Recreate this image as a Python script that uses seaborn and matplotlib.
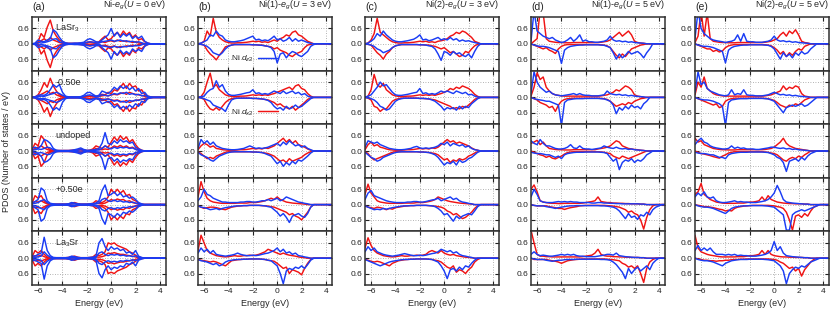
import numpy as np
import seaborn as sns
import matplotlib
matplotlib.use("Agg")
import matplotlib.pyplot as plt
from matplotlib.lines import Line2D

# energy grid (eV) shared by all panels, values below are PDOS in 1/100 states/eV
E = np.arange(-6.5, 4.51, 0.25)

col_titles = ["Ni-$e_g$($U$ = 0 eV)", "Ni(1)-$e_g$($U$ = 3 eV)", "Ni(2)-$e_g$($U$ = 3 eV)",
              "Ni(1)-$e_g$($U$ = 5 eV)", "Ni(2)-$e_g$($U$ = 5 eV)"]
col_tags = ["(a)", "(b)", "(c)", "(d)", "(e)"]
row_labels = ["LaSr$_3$", "-0.50e", "undoped", "+0.50e", "La$_3$Sr"]
yticks = [-0.6, 0.0, 0.6]
ytick_labels = ["0.6", "0.0", "0.6"]
xticks = [-6, -4, -2, 0, 2, 4]

# ---- column (a): U = 0, spin up and down mirror each other (outer / inner curves)
a1_ro = [0,0,8,40,25,65,93,50,30,15,8,3,2,2,2,2,3,4,6,8,6,5,8,20,30,15,20,35,45,30,50,35,45,25,35,15,20,8,3,0]
a1_ri = [0,0,3,12,20,10,25,15,10,5,2,0,0,0,0,0,0,2,3,4,3,2,4,8,5,10,12,8,15,10,12,8,10,5,8,3,2,0]
a1_bo = [0,3,15,10,8,15,20,55,45,25,10,4,2,2,3,3,4,6,15,20,15,8,6,15,25,35,60,30,45,25,40,30,40,20,30,22,30,10,3,0]
a1_bi = [0,0,5,3,5,8,12,18,20,8,4,0,0,0,0,0,0,2,5,8,6,3,3,8,10,12,15,10,12,15,10,12,8,10,6,8,4,0]

a2_ro = [0,2,10,30,58,40,75,45,25,10,5,3,2,2,2,2,2,3,5,6,5,4,8,12,10,20,15,30,25,40,55,35,55,40,45,25,30,12,5,2,0]
a2_ri = [0,0,5,12,18,25,15,20,10,5,2,0,0,0,0,0,0,2,3,4,3,2,4,6,8,6,10,12,10,15,18,12,20,15,12,10,8,4,2,0]
a2_bo = [0,2,8,10,8,15,30,50,40,50,20,5,2,2,2,2,3,8,18,20,12,5,8,25,20,15,25,40,30,45,35,45,30,40,25,35,15,20,5,2,0]
a2_bi = [0,0,3,5,4,8,12,15,20,15,8,3,0,0,0,0,2,4,8,10,6,3,4,10,8,6,10,15,12,18,15,20,12,15,10,12,6,8,2,0]

a3_ro = [5,30,20,60,45,15,5,3,2,2,2,2,2,3,4,5,8,4,2,3,8,20,15,10,20,15,35,55,40,60,45,55,35,45,25,10,3,0]
a3_ri = [2,10,15,20,12,6,2,0,0,0,0,0,0,0,2,3,4,2,0,2,4,10,6,5,8,6,12,20,15,22,15,20,12,15,8,4,0]
a3_bo = [10,15,10,20,45,40,30,10,3,2,2,2,2,3,5,8,12,6,3,3,4,6,10,30,72,30,25,40,30,45,35,40,30,35,15,8,3,0]
a3_bi = [3,5,8,6,10,15,12,5,2,0,0,0,0,0,2,3,5,3,0,0,2,3,4,10,20,12,8,15,10,15,12,15,10,12,6,3,0]

a4_ro = [5,35,25,35,15,5,3,2,2,2,2,2,3,6,8,4,2,2,2,3,5,15,10,8,15,30,60,45,60,45,55,35,40,20,15,5,2,0]
a4_ri = [2,12,10,15,8,3,0,0,0,0,0,0,2,3,4,2,0,0,0,0,2,5,4,3,6,12,20,15,22,18,20,12,15,8,5,2,0]
a4_bo = [8,12,20,65,55,15,5,3,2,2,2,2,3,8,6,3,2,2,2,3,4,6,15,55,77,35,40,50,35,45,30,35,25,30,20,8,3,0]
a4_bi = [3,5,8,15,20,8,3,0,0,0,0,0,2,3,3,2,0,0,0,0,2,3,6,20,25,15,12,18,12,15,10,12,8,10,6,3,0]

a5_ro = [5,30,20,30,15,5,3,2,2,2,2,2,3,6,8,4,2,2,2,3,5,15,10,15,25,60,55,60,50,45,40,35,25,20,12,5,2,0]
a5_ri = [2,10,8,12,6,2,0,0,0,0,0,0,2,3,3,2,0,0,0,0,2,5,4,6,10,20,18,22,18,15,15,12,10,8,5,2,0]
a5_bo = [10,8,15,20,82,30,10,3,2,2,2,2,3,8,6,3,2,2,2,3,4,8,60,77,45,30,45,35,40,30,35,20,25,15,30,8,3,0]
a5_bi = [3,3,5,8,25,12,4,0,0,0,0,0,2,3,3,2,0,0,0,0,2,3,20,25,15,10,15,12,15,10,12,8,10,6,10,3,0]

# ---- column (b): Ni(1), U = 3 eV  (ru/bu spin up, rd/bd spin down magnitudes)
b1_ru = [0,2,10,50,30,100,45,25,15,8,5,3,3,4,4,5,6,8,10,8,10,6,8,5,10,15,10,20,25,35,30,45,50,35,30,20,10,5,0]
b1_rd = [0,2,5,25,40,50,63,45,30,12,8,5,3,3,3,3,3,3,4,4,5,5,8,10,12,20,15,25,30,35,45,50,40,35,30,15,5,2,0]
b1_bu = [0,3,8,15,35,30,50,35,30,15,10,8,8,10,12,15,20,25,30,15,18,12,15,12,20,30,15,20,10,15,25,10,20,10,15,10,5,2,0]
b1_bd = [0,2,5,10,20,35,40,45,35,20,10,5,3,3,3,3,3,3,4,4,5,6,8,10,15,30,75,40,35,55,40,30,35,45,50,40,30,10,3,0]

b2_ru = [0,3,20,60,95,40,50,30,20,10,6,4,3,4,5,5,6,8,10,8,10,8,10,8,12,15,20,25,30,35,40,30,45,50,35,30,15,5,0]
b2_rd = [0,2,8,30,45,50,40,50,35,20,10,5,3,3,3,3,3,3,4,4,5,6,8,10,15,20,30,25,35,40,45,35,50,40,30,20,8,2,0]
b2_bu = [0,3,5,20,30,35,65,40,50,25,12,8,8,10,12,15,18,20,30,15,18,12,15,12,18,25,20,15,25,15,20,25,15,20,10,15,5,2,0]
b2_bd = [0,2,5,10,15,30,35,40,45,55,30,10,5,3,3,3,3,3,4,4,5,6,8,12,20,35,45,40,50,35,45,40,30,40,35,25,15,5,0]

b3_ru = [5,20,30,25,15,20,10,8,5,4,3,3,3,4,5,5,6,8,10,8,10,8,12,10,15,20,30,40,50,35,45,30,40,25,20,15,8,3,0]
b3_rd = [3,10,20,30,25,30,20,15,10,5,3,3,3,3,3,3,3,3,4,4,5,6,8,10,15,20,30,40,35,45,30,40,35,30,25,15,8,3,0]
b3_bu = [10,45,30,40,25,35,20,15,10,8,6,5,5,6,8,10,15,20,15,10,12,10,12,15,20,25,30,20,35,25,40,30,20,25,15,20,10,5,0]
b3_bd = [5,15,20,25,35,40,30,20,15,10,6,4,3,3,3,3,3,3,4,4,5,6,10,15,20,35,50,40,60,45,55,40,50,35,40,30,20,8,0]

b4_ru = [30,90,50,25,15,10,8,6,5,5,5,5,5,6,6,6,6,8,8,8,10,12,15,20,25,20,30,20,15,10,8,6,5,4,3,2,0]
b4_rd = [5,10,15,12,10,10,12,15,18,20,15,10,8,6,5,4,4,3,3,3,3,4,5,6,8,10,15,20,25,30,40,35,45,50,60,45,30,10,0]
b4_bu = [15,30,60,40,35,25,20,15,10,10,8,8,8,8,10,10,12,12,10,10,12,15,15,20,15,20,25,15,20,30,25,20,15,10,8,5,3,0]
b4_bd = [5,10,12,15,20,18,15,20,15,12,10,8,6,5,5,4,4,3,3,3,3,4,5,8,10,20,30,45,35,50,70,45,40,35,45,50,35,10,0]

b5_ru = [30,90,60,30,20,15,10,8,6,5,6,8,10,8,8,10,10,12,10,12,15,20,25,35,30,25,20,15,20,15,12,10,8,5,3,2,0]
b5_rd = [5,8,10,12,15,12,15,20,25,30,20,10,8,6,5,4,4,3,3,3,3,4,5,8,10,12,20,30,40,35,60,45,50,55,65,40,20,5,0]
b5_bu = [20,40,25,35,20,30,15,12,10,8,10,12,15,20,15,12,10,10,12,10,12,15,18,20,25,30,40,25,35,20,25,15,20,10,8,5,3,0]
b5_bd = [5,10,12,15,20,25,20,30,25,15,10,8,6,5,5,4,4,3,3,3,3,4,5,8,10,20,30,60,100,50,40,45,35,40,30,40,25,8,0]

# ---- column (c): Ni(2), U = 3 eV
c1_ru = [0,3,15,40,100,45,35,25,15,8,5,3,3,4,4,5,6,8,10,8,10,6,8,5,10,12,15,20,30,35,45,40,50,45,35,25,10,5,0]
c1_rd = [0,2,5,20,35,45,60,40,30,15,8,5,3,3,3,3,3,3,4,4,5,5,8,10,15,20,15,25,35,30,40,50,45,30,35,20,8,2,0]
c1_bu = [0,3,10,20,40,30,50,35,25,15,10,8,8,10,12,15,18,25,35,15,18,12,15,20,25,15,20,15,25,15,20,10,15,10,12,8,5,2,0]
c1_bd = [0,2,5,10,20,25,35,30,25,15,8,5,3,3,3,3,3,3,4,4,5,8,10,20,40,65,30,35,45,30,40,35,45,50,40,55,30,10,0]

c2_ru = [0,5,30,90,50,40,55,30,20,10,6,4,3,4,5,5,6,8,10,8,10,8,10,8,12,15,20,25,35,30,40,35,45,40,35,25,12,4,0]
c2_rd = [0,3,10,35,40,55,45,45,30,15,8,5,3,3,3,3,3,3,4,4,5,6,8,10,15,20,25,30,35,45,40,45,35,40,30,20,8,2,0]
c2_bu = [0,5,10,25,40,60,45,50,35,20,10,8,8,10,12,15,18,20,35,15,18,12,15,12,18,25,20,25,20,15,25,20,15,20,10,12,5,2,0]
c2_bd = [0,2,5,10,20,35,40,50,45,30,15,8,5,3,3,3,3,3,4,4,5,6,10,15,25,35,50,40,45,40,50,35,45,35,40,25,15,5,0]

c3_ru = [5,25,35,20,25,15,12,8,5,4,3,3,3,4,5,5,6,8,10,8,10,8,12,10,15,25,35,45,35,40,30,35,30,25,20,12,6,3,0]
c3_rd = [3,10,25,35,30,25,20,15,10,5,3,3,3,3,3,3,3,3,4,4,5,6,8,10,15,25,35,30,45,35,40,30,35,30,20,15,8,3,0]
c3_bu = [15,40,35,30,35,25,20,15,10,8,6,5,5,6,8,10,15,18,12,10,12,10,12,15,20,30,25,35,20,30,25,20,25,15,20,10,5,3,0]
c3_bd = [5,15,25,30,40,35,25,20,15,10,6,4,3,3,3,3,3,3,4,4,5,6,10,15,25,40,55,45,50,40,55,35,45,40,30,25,15,5,0]

c4_ru = [40,80,45,30,15,10,8,6,5,5,5,5,5,6,6,6,6,8,8,8,10,12,15,20,30,25,20,15,12,10,8,6,5,4,3,2,0]
c4_rd = [5,10,12,15,10,12,15,20,15,18,12,10,8,6,5,4,4,3,3,3,3,4,5,6,8,10,15,25,30,40,35,45,55,50,40,30,15,5,0]
c4_bu = [20,45,55,35,30,25,20,15,12,10,8,8,8,8,10,10,12,12,10,10,12,15,18,20,25,15,20,25,30,20,25,15,10,8,5,3,0]
c4_bd = [5,10,15,20,18,20,15,18,15,12,10,8,6,5,5,4,4,3,3,3,3,4,5,8,15,25,40,35,50,65,45,55,45,40,35,40,25,8,0]

c5_ru = [40,80,50,30,20,15,10,8,6,5,6,8,10,8,8,10,10,12,10,12,15,25,30,25,20,30,20,15,12,15,10,8,6,4,3,2,0]
c5_rd = [5,8,12,15,12,15,20,25,30,20,15,10,8,6,5,4,4,3,3,3,3,4,5,8,10,15,25,35,40,30,55,45,50,60,45,35,15,5,0]
c5_bu = [25,45,30,40,25,20,15,12,10,8,10,12,15,18,15,12,10,10,12,10,12,15,18,20,25,35,30,25,30,20,25,15,10,8,5,3,0]
c5_bd = [5,10,15,20,25,30,25,20,15,12,10,8,6,5,5,4,4,3,3,3,3,4,5,10,15,30,50,80,45,40,50,35,45,30,35,20,8,0]

# ---- column (d): Ni(1), U = 5 eV
d1_ru = [0,10,20,130,120,20,10,8,6,5,5,4,4,4,5,5,5,5,5,5,5,5,5,6,8,10,15,25,35,45,30,40,50,35,10,5,3,2,0]
d1_rd = [0,5,10,15,20,15,25,30,38,20,10,5,3,3,3,3,3,3,3,3,3,3,3,4,5,8,15,30,45,55,40,50,35,20,15,10,5,3,0]
d1_bu = [10,130,50,40,30,25,20,25,15,10,5,8,15,25,10,20,35,10,15,8,8,6,6,8,10,15,30,15,10,12,8,10,6,8,5,4,3,2,0]
d1_bd = [0,5,8,10,10,12,15,20,25,30,77,25,15,10,8,6,5,5,4,4,4,4,4,5,6,10,15,35,60,40,55,45,30,40,35,30,40,55,35,20,0]

d2_ru = [5,40,96,70,80,40,25,15,10,8,6,5,5,5,5,5,5,5,5,5,5,5,5,6,8,10,15,20,30,25,35,45,40,30,10,5,3,0]
d2_rd = [0,5,10,20,25,30,40,35,55,30,15,8,5,4,3,3,3,3,3,3,3,3,3,4,5,8,15,25,35,30,25,30,20,25,15,10,5,3,0]
d2_bu = [15,100,60,40,30,20,25,15,10,8,6,8,10,12,15,10,15,10,8,8,6,6,6,8,10,25,15,12,10,12,8,10,6,8,5,4,3,2,0]
d2_bd = [0,5,8,10,12,15,15,20,25,30,110,20,10,8,6,5,5,5,4,4,4,4,4,5,6,10,15,30,64,40,50,35,45,30,40,35,45,25,15,0]

d3_ru = [30,35,42,25,35,20,10,8,6,5,5,4,4,4,5,5,5,5,5,5,5,5,8,10,12,15,20,30,40,35,20,15,10,8,6,5,3,2,0]
d3_rd = [0,5,10,15,18,25,20,28,31,25,20,12,6,4,3,3,3,3,3,3,3,3,3,4,5,8,10,20,25,30,20,25,30,25,20,15,10,5,0]
d3_bu = [40,30,25,45,30,20,20,15,10,8,8,10,15,25,12,10,20,10,8,8,6,8,10,12,20,15,12,10,15,10,8,10,6,8,5,4,3,2,0]
d3_bd = [5,8,10,10,12,15,15,20,25,20,30,15,10,8,6,5,5,5,4,4,4,4,4,5,6,10,25,40,30,73,45,35,40,30,45,35,40,30,15,8,0]

d4_ru = [60,77,50,15,10,8,6,5,5,4,4,5,5,5,5,5,5,6,8,10,12,15,30,12,10,8,8,6,6,5,5,4,4,3,3,3,2,2,0]
d4_rd = [0,3,5,5,5,5,8,10,12,15,15,19,15,12,10,8,5,4,3,3,3,3,3,3,3,4,5,6,8,10,15,20,30,25,35,40,60,96,50,20,5,0]
d4_bu = [30,60,40,15,10,8,8,8,10,12,10,12,10,12,10,10,8,8,8,8,6,6,8,8,6,6,5,5,4,4,3,3,3,3,3,3,2,2,0]
d4_bd = [0,3,5,5,5,8,10,12,15,12,10,8,6,5,5,4,4,4,4,4,4,4,4,5,5,6,8,10,15,25,40,55,35,50,45,58,40,45,30,40,20,10,5,0]

d5_ru = [110,60,15,8,8,6,6,5,5,5,5,5,5,5,5,5,5,6,8,10,12,20,35,15,10,8,8,6,6,5,5,4,4,3,3,3,2,2,0]
d5_rd = [0,5,5,5,5,5,8,10,12,15,20,15,10,8,6,5,4,3,3,3,3,3,3,3,3,4,5,6,8,10,20,25,35,30,40,30,60,95,40,15,5,0]
d5_bu = [15,25,15,10,12,10,8,8,10,12,15,12,15,12,15,10,8,8,6,6,6,6,8,10,12,15,15,12,20,10,8,6,5,4,3,3,2,2,0]
d5_bd = [0,3,5,5,5,8,10,12,10,8,8,6,5,5,5,4,4,4,4,4,4,4,4,5,5,6,8,15,25,40,55,80,40,60,45,35,50,40,30,45,20,8,0]

# ---- column (e): Ni(2), U = 5 eV
e1_ru = [5,30,130,30,120,20,10,8,6,5,5,4,4,4,5,5,5,5,5,5,5,5,5,6,8,10,15,20,35,45,30,50,40,55,35,10,5,3,0]
e1_rd = [0,5,10,15,20,20,30,25,32,28,15,8,5,3,3,3,3,3,3,3,3,3,3,4,5,8,15,25,40,30,50,35,45,30,20,25,10,5,0]
e1_bu = [20,130,60,40,30,20,15,12,10,8,5,8,10,15,35,10,40,10,8,8,6,6,6,8,10,15,30,15,10,12,8,10,6,8,5,4,3,2,0]
e1_bd = [0,5,8,10,10,12,15,20,25,30,75,25,15,10,8,6,5,5,4,4,4,4,4,5,6,10,20,40,60,35,50,40,55,35,45,30,40,35,20,10,0]

e2_ru = [10,60,40,80,35,25,15,10,8,6,5,5,5,5,5,5,5,5,5,5,5,5,5,6,8,10,15,20,25,45,30,40,35,45,40,15,5,3,0]
e2_rd = [0,5,10,15,20,25,30,25,40,35,15,8,5,3,3,3,3,3,3,3,3,3,3,4,5,8,12,20,30,35,40,30,35,25,30,20,10,5,0]
e2_bu = [20,100,50,60,35,25,20,15,10,8,6,10,30,10,15,12,30,10,8,8,6,6,6,8,10,15,20,15,10,12,8,10,6,8,5,4,3,2,0]
e2_bd = [0,5,8,10,10,12,15,20,25,35,110,20,10,8,6,5,5,5,4,4,4,4,4,5,6,10,15,30,45,60,40,35,30,35,30,25,35,30,20,10,0]

e3_ru = [50,35,40,25,20,15,10,8,6,5,5,4,4,4,5,5,5,5,5,5,5,5,5,6,8,10,15,25,35,50,30,20,15,10,8,6,4,2,0]
e3_rd = [0,5,10,12,15,18,22,25,28,20,15,8,5,3,3,3,3,3,3,3,3,3,3,4,5,8,10,15,25,35,40,30,25,30,20,25,15,8,0]
e3_bu = [25,40,50,35,30,20,15,12,10,8,8,10,20,10,15,10,12,8,8,8,6,6,8,10,12,15,15,12,10,12,8,10,6,8,5,4,3,2,0]
e3_bd = [5,8,10,10,12,15,15,20,25,25,30,15,10,8,6,5,5,5,4,4,4,4,4,5,6,10,15,25,30,45,80,40,35,30,40,25,35,20,10,5,0]

e4_ru = [40,50,83,40,30,20,15,10,8,6,5,5,5,5,6,6,6,8,10,10,12,15,30,15,35,20,15,10,8,6,5,4,4,3,3,3,2,2,0]
e4_rd = [0,3,5,8,8,10,12,15,18,20,25,22,25,15,10,8,6,5,4,3,3,3,3,3,3,4,5,8,10,15,30,60,100,45,40,50,35,45,25,10,5,0]
e4_bu = [30,45,35,50,30,25,30,15,10,8,8,10,12,15,10,12,10,10,8,8,8,10,12,15,20,30,45,75,50,20,10,8,6,5,4,3,2,2,0]
e4_bd = [0,5,8,10,10,12,15,20,25,30,35,25,15,10,8,6,5,5,4,4,4,4,4,5,6,8,10,20,30,40,100,100,40,30,25,20,25,20,15,10,5,0]

e5_ru = [90,40,25,20,15,12,10,8,6,5,5,5,5,5,6,6,6,8,10,10,12,15,30,15,30,15,10,8,6,5,5,4,4,3,3,3,2,2,0]
e5_rd = [0,3,5,8,8,10,10,12,10,10,8,8,6,5,5,4,4,3,3,3,3,3,3,3,3,4,5,8,15,20,30,40,35,50,40,70,45,30,15,5,0]
e5_bu = [30,50,30,40,30,40,25,15,15,15,12,15,12,15,10,12,10,10,8,8,8,10,12,15,20,30,65,30,45,20,10,8,6,5,4,3,2,2,0]
e5_bd = [0,5,8,10,10,12,15,20,25,30,20,15,10,8,6,5,5,5,4,4,4,4,4,5,6,8,10,20,30,50,100,60,45,35,40,30,35,25,15,10,5,0]

RED = "#f01414"
BLUE = "#1a3cf5"


def curve(vals, sign=1.0):
    v = np.zeros(len(E))
    v[:len(vals)] = np.asarray(vals, dtype=float) / 100.0
    return sign * v


# panel table built from the named lists above
panels_a = [(a1_ro, a1_ri, a1_bo, a1_bi), (a2_ro, a2_ri, a2_bo, a2_bi), (a3_ro, a3_ri, a3_bo, a3_bi),
            (a4_ro, a4_ri, a4_bo, a4_bi), (a5_ro, a5_ri, a5_bo, a5_bi)]
panels_spin = [
    [(b1_ru, b1_rd, b1_bu, b1_bd), (b2_ru, b2_rd, b2_bu, b2_bd), (b3_ru, b3_rd, b3_bu, b3_bd),
     (b4_ru, b4_rd, b4_bu, b4_bd), (b5_ru, b5_rd, b5_bu, b5_bd)],
    [(c1_ru, c1_rd, c1_bu, c1_bd), (c2_ru, c2_rd, c2_bu, c2_bd), (c3_ru, c3_rd, c3_bu, c3_bd),
     (c4_ru, c4_rd, c4_bu, c4_bd), (c5_ru, c5_rd, c5_bu, c5_bd)],
    [(d1_ru, d1_rd, d1_bu, d1_bd), (d2_ru, d2_rd, d2_bu, d2_bd), (d3_ru, d3_rd, d3_bu, d3_bd),
     (d4_ru, d4_rd, d4_bu, d4_bd), (d5_ru, d5_rd, d5_bu, d5_bd)],
    [(e1_ru, e1_rd, e1_bu, e1_bd), (e2_ru, e2_rd, e2_bu, e2_bd), (e3_ru, e3_rd, e3_bu, e3_bd),
     (e4_ru, e4_rd, e4_bu, e4_bd), (e5_ru, e5_rd, e5_bu, e5_bd)],
]

sns.set_theme(style="ticks")
plt.rcParams["font.family"] = ["Liberation Sans", "DejaVu Sans"]
plt.rcParams["mathtext.fontset"] = "custom"
plt.rcParams["mathtext.rm"] = "Liberation Sans"
plt.rcParams["mathtext.it"] = "Liberation Sans:italic"

W, H = 830, 315
fig = plt.figure(figsize=(W / 100, H / 100), dpi=100)

col_left = [32, 198, 365, 531, 695]
ax_w = 134
top, bottom = 17, 285
row_h = (bottom - top) / 5
LW = 1.05

for c in range(5):
    for r in range(5):
        y0 = top + r * row_h
        ax = fig.add_axes([col_left[c] / W, 1 - (y0 + row_h) / H, ax_w / W, row_h / H])
        if c == 0:
            ro, ri, bo, bi = panels_a[r]
            for vals in (ri, ro):
                for s in (1, -1):
                    sns.lineplot(x=E, y=curve(vals, s), ax=ax, color=RED, lw=LW,
                                 estimator=None, sort=False, legend=False)
            for vals in (bi, bo):
                for s in (1, -1):
                    sns.lineplot(x=E, y=curve(vals, s), ax=ax, color=BLUE, lw=LW,
                                 estimator=None, sort=False, legend=False)
            ax.text(-4.6, 0.6, row_labels[r], fontsize=6.5, ha="left", va="center")
        else:
            ru, rd, bu, bd = panels_spin[c - 1][r]
            sns.lineplot(x=E, y=curve(ru, 1), ax=ax, color=RED, lw=LW, estimator=None, sort=False, legend=False)
            sns.lineplot(x=E, y=curve(rd, -1), ax=ax, color=RED, lw=LW, estimator=None, sort=False, legend=False)
            sns.lineplot(x=E, y=curve(bu, 1), ax=ax, color=BLUE, lw=LW, estimator=None, sort=False, legend=False)
            sns.lineplot(x=E, y=curve(bd, -1), ax=ax, color=BLUE, lw=LW, estimator=None, sort=False, legend=False)

        ax.set_xlim(-6.5, 4.5)
        ax.set_ylim(-1.05, 1.05)
        ax.set_xticks(xticks)
        ax.set_yticks(yticks)
        ax.set_yticklabels(ytick_labels)
        ax.grid(True, ls=(0, (1, 2)), color="#9a9a9a", lw=0.6)
        ax.tick_params(direction="in", length=3, width=0.8, top=True, right=True,
                       labelsize=6, pad=2, colors="#222222")
        for sp in ax.spines.values():
            sp.set_linewidth(1.1)
            sp.set_color("#303030")
        ax.set_ylabel("")
        if r == 4:
            ax.set_xlabel("Energy (eV)", fontsize=6.5, labelpad=3)
        else:
            ax.set_xlabel("")
            ax.set_xticklabels([])
        if r == 0:
            ax.text(0, 1.1, col_tags[c], transform=ax.transAxes, ha="left", va="bottom", fontsize=7.5)
            ax.text(1, 1.1, col_titles[c], transform=ax.transAxes, ha="right", va="bottom", fontsize=6.5)
        if c == 1 and r in (0, 1):
            lab, colr = ("Ni $d_{z2}$", BLUE) if r == 0 else ("Ni $d_{x2}$", RED)
            h = Line2D([], [], color=colr, lw=LW)
            ax.legend([h], [lab], loc="center", bbox_to_anchor=(0.42, 0.22), frameon=False,
                      markerfirst=False, fontsize=6, handlelength=2.4, handletextpad=0.5,
                      borderpad=0, borderaxespad=0)

fig.text(0.008, 1 - ((top + bottom) / 2) / H, "PDOS (Number of states / eV)", rotation=90,
         ha="center", va="center", fontsize=6.5)

fig.savefig("out.png", dpi=100)
